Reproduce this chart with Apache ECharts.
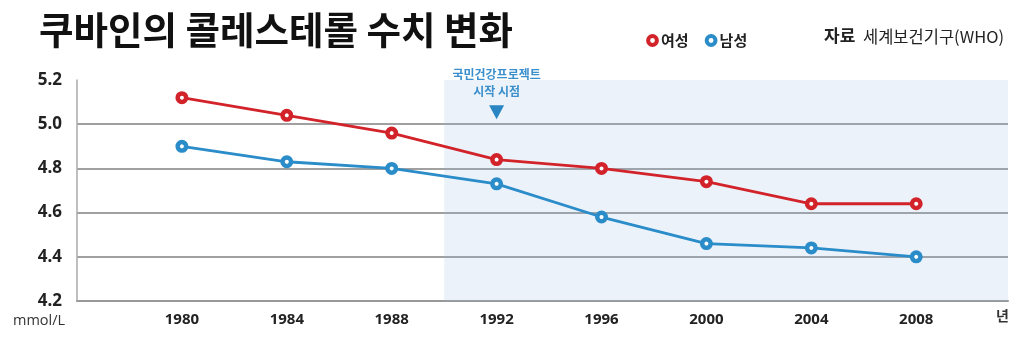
<!DOCTYPE html>
<html><head><meta charset="utf-8">
<script src="https://cdn.jsdelivr.net/npm/echarts@6/dist/echarts.min.js"></script>
<style>html,body{margin:0;padding:0;background:#fff}#c{width:1024px;height:343px}</style>
</head><body><div id="c"></div>
<script>
const years = [1980, 1984, 1988, 1992, 1996, 2000, 2004, 2008];
const female = [5.12, 5.04, 4.96, 4.84, 4.80, 4.74, 4.64, 4.64];
const male = [4.90, 4.83, 4.80, 4.73, 4.58, 4.46, 4.44, 4.40];
const seriesNames = ['여성', '남성'];
const title = '쿠바인의 콜레스테롤 수치 변화';
const sourceLabel = '자료';
const sourceText = '세계보건기구(WHO)';
const unitY = 'mmol/L';
const unitX = '년';
const projectStart = 1990;
const annotationYear = 1992;
const annotationText = '국민건강프로젝트\n시작 시점';
const xMin = 1976, xMax = 2011.5;
const yMin = 4.2, yMax = 5.2, yStep = 0.2;

const RED = '#d3232a', BLUE = '#2a8cc8';
const CJK = '"Noto Sans CJK KR", "Noto Sans", sans-serif';
const NUM = '"Liberation Sans Narrow", "Noto Sans", sans-serif';

const chart = echarts.init(document.getElementById('c'));
chart.setOption({
  animation: false,
  backgroundColor: '#fff',
  grid: { left: 77, right: 16, top: 80, bottom: 42 },
  title: {
    text: title, left: 34, top: 6,
    textStyle: { fontFamily: CJK, fontSize: 37.5, fontWeight: 'bold', color: '#111' }
  },
  legend: {
    data: seriesNames, left: 641, top: 28, itemGap: 16, itemWidth: 11, itemHeight: 11,
    itemStyle: { borderWidth: 4 },
    textStyle: { fontFamily: CJK, fontSize: 15, fontWeight: 'bold', color: '#222', padding: [0, 0, 0, -2] }
  },
  graphic: [
    { type: 'text', left: 824, top: 27, style: { text: sourceLabel, font: 'bold 17px ' + CJK, fill: '#222' } },
    { type: 'text', left: 863, top: 28, style: { text: sourceText, font: '16.5px ' + CJK, fill: '#222' } },
    { type: 'text', left: 13, top: 313, style: { text: unitY, font: '14.5px "Open Sans", sans-serif', fill: '#333' } },
    { type: 'text', left: 996, top: 309, style: { text: unitX, font: 'bold 14px ' + CJK, fill: '#333' } }
  ],
  xAxis: {
    type: 'value', min: xMin, max: xMax,
    axisLine: { show: true, lineStyle: { color: '#999', width: 2 } },
    axisTick: { show: false },
    splitLine: { show: false },
    axisLabel: {
      customValues: years, formatter: v => String(v), margin: 11,
      fontFamily: NUM, fontSize: 15, fontWeight: 'bold', color: '#222'
    }
  },
  yAxis: {
    type: 'value', min: yMin, max: yMax, interval: yStep,
    axisLine: { show: true, lineStyle: { color: '#aaa', width: 1.5 } },
    axisTick: { show: false },
    splitLine: { show: true, showMaxLine: false, lineStyle: { color: '#a0a0a0', width: 2 } },
    axisLabel: {
      formatter: v => v.toFixed(1), margin: 15,
      fontFamily: NUM, fontSize: 17, fontWeight: 'bold', color: '#222'
    }
  },
  series: [
    {
      name: seriesNames[0], type: 'line',
      data: years.map((y, i) => [y, female[i]]),
      symbol: 'circle', symbolSize: 8.5,
      itemStyle: { color: '#fff', borderColor: RED, borderWidth: 4.5 },
      lineStyle: { color: RED, width: 2.8 },
      z: 3,
      markArea: {
        silent: true,
        itemStyle: { color: 'rgba(145,185,225,0.18)', borderWidth: 0 },
        data: [[{ xAxis: projectStart }, { xAxis: xMax }]]
      }
    },
    {
      name: seriesNames[1], type: 'line',
      data: years.map((y, i) => [y, male[i]]),
      symbol: 'circle', symbolSize: 8.5,
      itemStyle: { color: '#fff', borderColor: BLUE, borderWidth: 4.5 },
      lineStyle: { color: BLUE, width: 2.8 },
      z: 3,
      markPoint: {
        silent: true,
        data: [{
          coord: [annotationYear, 5.054], symbol: 'triangle', symbolRotate: 180,
          symbolSize: [15, 14], itemStyle: { color: '#2a86c2', borderWidth: 0 },
          label: {
            show: true, position: 'top', distance: 5, formatter: annotationText,
            fontFamily: CJK, fontSize: 12, fontWeight: 'bold', color: '#3a8fcc', lineHeight: 17, align: 'center'
          }
        }]
      }
    }
  ]
});
</script></body></html>
